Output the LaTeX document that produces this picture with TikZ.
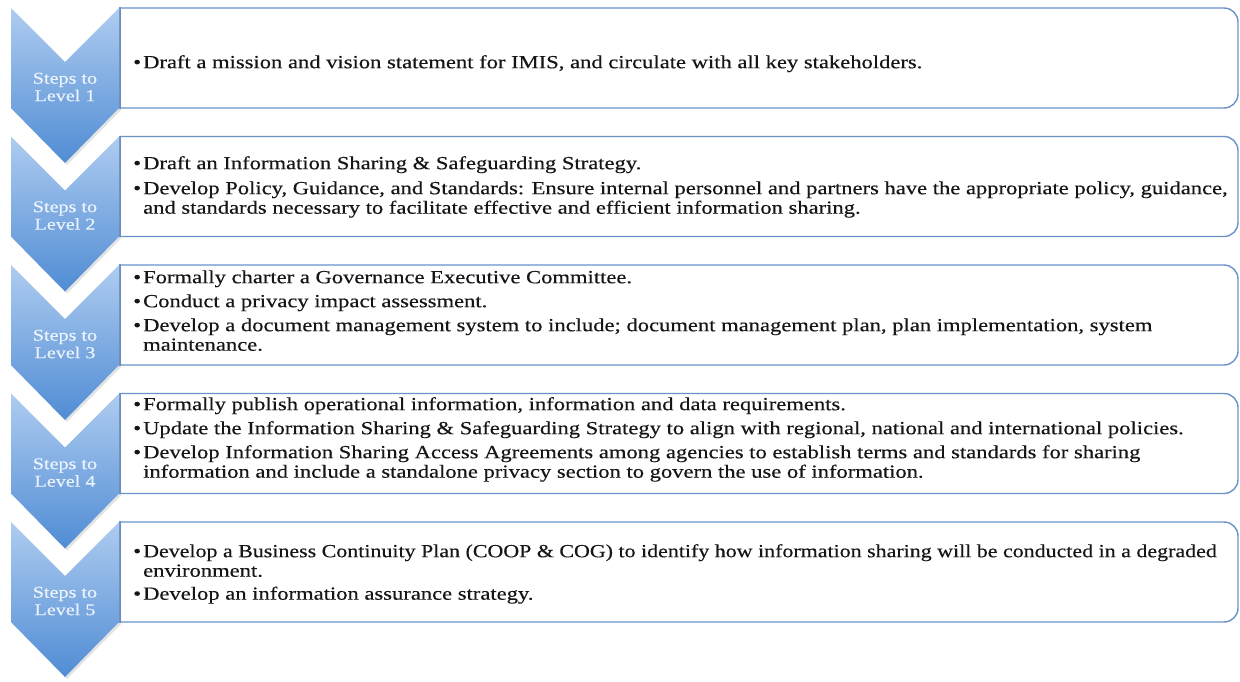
\documentclass[tikz,border=0pt]{standalone}
\usepackage{fontspec}
\usepackage{graphicx}
\setmainfont[FakeStretch=1.22,FakeBold=0.35]{Liberation Serif}
\usetikzlibrary{shadows}
\definecolor{chevtop}{RGB}{174,204,240}
\definecolor{chevbot}{RGB}{80,140,212}
\definecolor{boxline}{RGB}{104,146,200}
\definecolor{chevtext}{RGB}{236,243,252}
\definecolor{bodytext}{RGB}{22,22,22}
\newcommand{\itm}{\strut\makebox[10pt][l]{\textbullet}}
\newcommand{\cnt}{\hspace*{10pt}}
\newcommand{\squeezeline}[1]{\scalebox{0.972}[1]{#1}}
\begin{document}
\begin{tikzpicture}[x=1pt,y=-1pt,
  chevron/.style={top color=chevtop, bottom color=chevbot,
    drop shadow={opacity=0.22, shadow xshift=2pt, shadow yshift=-2pt}},
  panel/.style={draw=boxline, line width=1.4pt, fill=white, rounded corners=14pt},
  edge/.style={draw=boxline, line width=1.4pt},
  chevlabel/.style={align=center, text=chevtext, font=\fontsize{16.5}{17.5}\selectfont, inner sep=0pt},
  bodylines/.style={anchor=north west, align=left, text=bodytext, inner sep=0pt,
    font=\fontsize{18.5}{19.5}\selectfont}]
\useasboundingbox (0,0) rectangle (1240,681);
\fill[white] (0,0) rectangle (1240,681);

% five rows: chevron on the left, text panel on the right
\foreach \t/\n in {8/1, 136.5/2, 265/3, 393.5/4, 522/5}{
  \begin{scope}
    \clip (119,\t-5) rectangle (1245,\t+106);
    \path[panel] (80,\t) rectangle (1238,\t+100);
  \end{scope}
  \draw[edge] (120,\t-0.7) -- (120,\t+100.7);
  \path[chevron] (11,\t) -- (65,\t+54) -- (119,\t) -- (119,\t+100)
    -- (65,\t+155) -- (11,\t+100) -- cycle;
  \node[chevlabel] (step\n) at (65,\t+79) {Steps to\\Level \n};
}

% the strut puts the top of each block 13.65pt above its first baseline
\node[bodylines] (items1) at (133,68-13.65) {%
\itm Draft a mission and vision statement for IMIS, and circulate with all key stakeholders.};

\node[bodylines] (items2) at (133,169-13.65) {%
\itm Draft an Information Sharing \& Safeguarding Strategy.\\[5.5pt]
\itm Develop Policy, Guidance, and Standards: Ensure internal personnel and partners have the appropriate policy, guidance,\\
\cnt and standards necessary to facilitate effective and efficient information sharing.};

\node[bodylines] (items3) at (133,283-13.65) {%
\itm Formally charter a Governance Executive Committee.\\[4.5pt]
\itm Conduct a privacy impact assessment.\\[4.5pt]
\itm Develop a document management system to include; document management plan, plan implementation, system\\
\cnt maintenance.};

\node[bodylines] (items4) at (133,410-13.65) {%
\itm Formally publish operational information, information and data requirements.\\[4.5pt]
\itm Update the Information Sharing \& Safeguarding Strategy to align with regional, national and international policies.\\[4.5pt]
\itm Develop Information Sharing Access Agreements among agencies to establish terms and standards for sharing\\
\cnt information and include a standalone privacy section to govern the use of information.};

\node[bodylines] (items5) at (133,557-13.65) {%
\itm \squeezeline{Develop a Business Continuity Plan (COOP \& COG) to identify how information sharing will be conducted in a degraded}\\
\cnt environment.\\[3.5pt]
\itm Develop an information assurance strategy.};
\end{tikzpicture}
\end{document}
